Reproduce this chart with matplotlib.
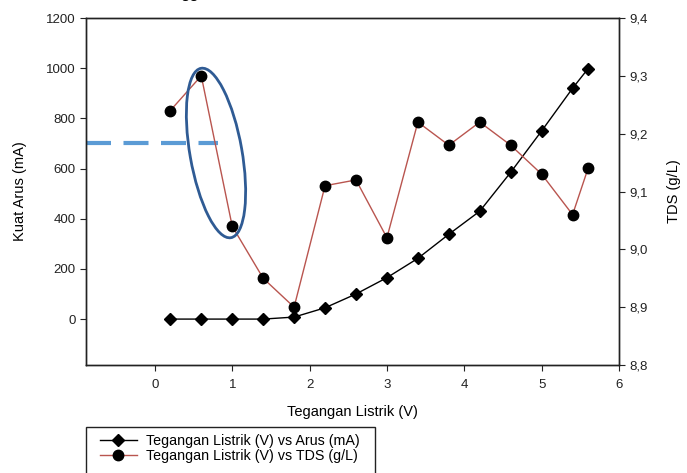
import matplotlib
matplotlib.use("Agg")
import matplotlib.pyplot as plt
from matplotlib.patches import Ellipse, Rectangle
from matplotlib.transforms import IdentityTransform
from matplotlib.lines import Line2D

plt.rcParams['font.family'] = ['Liberation Sans', 'DejaVu Sans']

voltage = [0.2, 0.6, 1.0, 1.4, 1.8, 2.2, 2.6, 3.0, 3.4, 3.8, 4.2, 4.6, 5.0, 5.4, 5.6]
arus = [0, 0, 0, 0, 8, 45, 100, 165, 242, 338, 430, 585, 750, 920, 998]
tds = [9.24, 9.30, 9.04, 8.95, 8.90, 9.11, 9.12, 9.02, 9.22, 9.18, 9.22, 9.18, 9.13, 9.06, 9.14]

left_ticks = [0, 200, 400, 600, 800, 1000, 1200]
right_ticks = [8.8, 8.9, 9.0, 9.1, 9.2, 9.3, 9.4]
right_labels = ['8,8', '8,9', '9,0', '9,1', '9,2', '9,3', '9,4']
x_ticks = [0, 1, 2, 3, 4, 5, 6]

W, H = 687, 473
fig = plt.figure(figsize=(W/100, H/100), dpi=100)
ax = fig.add_axes([86/W, 1-365/H, (619-86)/W, (365-18)/H])
ax2 = ax.twinx()

ax.plot(voltage, arus, color='black', lw=1.0, marker='D', ms=6, mfc='black', mec='black', zorder=3)
ax2.plot(voltage, tds, color='#b9554f', lw=1.0, marker='o', ms=7.5, mfc='black', mec='black', zorder=3)

ax.set_xlim(-0.89, 6)
ax.set_ylim(-183, 1200)
ax2.set_ylim(8.8, 9.4)
ax.set_xticks(x_ticks)
ax.set_yticks(left_ticks)
ax2.set_yticks(right_ticks)
ax2.set_yticklabels(right_labels)

for a in (ax, ax2):
    a.tick_params(direction='out', length=4, width=0.8, labelsize=9.5, colors='#222222')
    for s in a.spines.values():
        s.set_linewidth(1.0)
        s.set_color('#222222')
ax.tick_params(axis='x', pad=6)

ax.set_xlabel('Tegangan Listrik (V)', fontsize=10.5, labelpad=10)
ax.set_ylabel('Kuat Arus (mA)', fontsize=10.5, labelpad=14)
ax2.set_ylabel('TDS (g/L)', fontsize=10.5, labelpad=14)

# dashed reference line
ax.plot([-0.89, 0.81], [700, 700], color='#5b9bd5', lw=3, dashes=(6, 3), zorder=2, clip_on=False)

# ellipse annotation (display pixels)
ell = Ellipse((216, H-153), 52, 172, angle=10, fill=False, edgecolor='#2f5b94', lw=2,
              transform=IdentityTransform(), zorder=5)
fig.patches.append(ell)

# legend
handles = [Line2D([], [], color='black', lw=1.0, marker='D', ms=6, mfc='black', mec='black'),
           Line2D([], [], color='#b9554f', lw=1.0, marker='o', ms=7.5, mfc='black', mec='black')]
labels = ['Tegangan Listrik (V) vs Arus (mA)', 'Tegangan Listrik (V) vs TDS (g/L)']
fig.legend(handles, labels, loc='upper left', bbox_to_anchor=(94/W, 1-428/H), frameon=False,
           fontsize=10.3, handlelength=2.6, handletextpad=0.6, labelspacing=0.1, borderaxespad=0)
fig.patches.append(Rectangle((86, -10), 289, H-427+10, fill=False, edgecolor='#222222', lw=1.0,
                             transform=IdentityTransform()))

# cropped title fragment (cut off at the top edge, as in the reference)
fig.text(180/W, 1.004, 'gg', fontsize=12, va='baseline', ha='left')

fig.savefig('out.png', dpi=100)
